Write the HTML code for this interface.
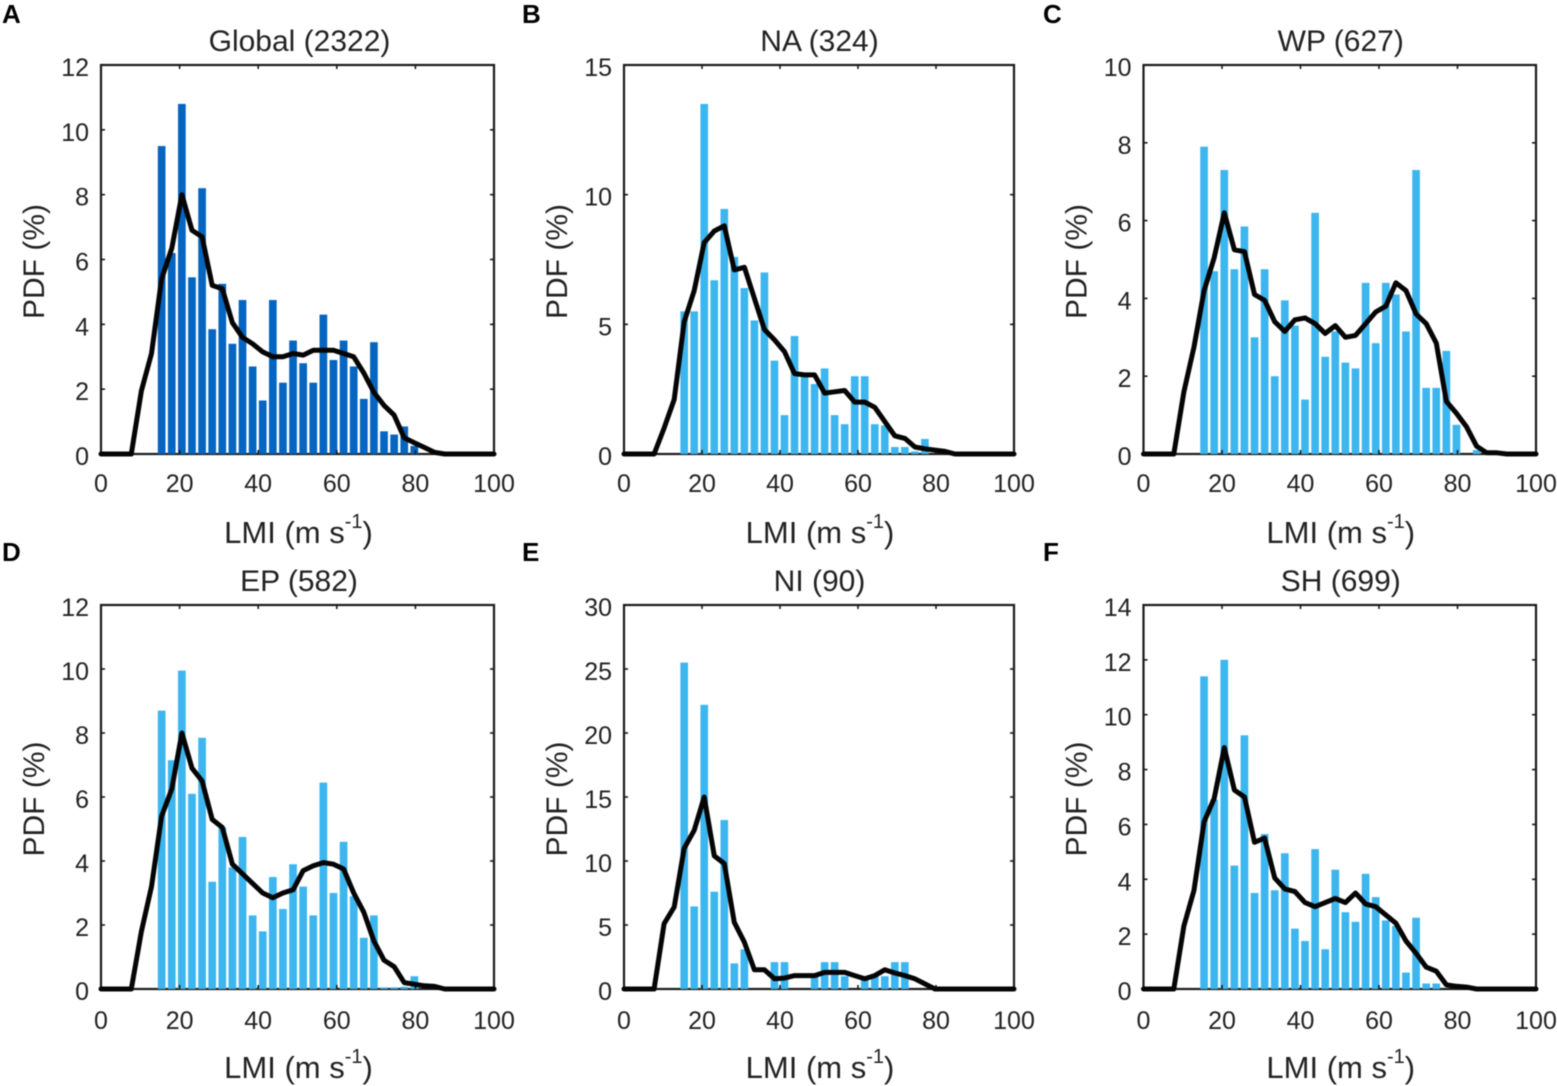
<!DOCTYPE html>
<html lang="en">
<head>
<meta charset="utf-8">
<title>LMI PDF by basin</title>
<style>
html,body{margin:0;padding:0;background:#fff;width:1557px;height:1086px;overflow:hidden}
svg{display:block;filter:blur(0.5px)}
text{font-family:"Liberation Sans",Arial,sans-serif;fill:#222}
.tick{font-size:25px}
.lab{font-size:30px}
.xlab{font-size:31px}
.letter{font-size:26px;font-weight:bold;fill:#000}
</style>
</head>
<body>
<svg id="fig" xmlns="http://www.w3.org/2000/svg" width="1557" height="1086" viewBox="0 0 1557 1086"></svg>
<script>
// Shared categories (knots) and tick labels
const barKnots = [30,35,40,45,50,55,60,65,70,75,80,85,90,95,100,105,110,115,120,125,130,135,140,145,150,155,160,165];
const lineKnots = [0,5,10,15,20,25,30,35,40,45,50,55,60,65,70,75,80,85,90,95,100,105,110,115,120,125,130,135,140,145,150,155,160,165,170,175,180,185,190,194.4];
const xTickLabels = [0,20,40,60,80,100];
const yTicksGlobal = [0,2,4,6,8,10,12];
const yTicksNA = [0,5,10,15];
const yTicksWP = [0,2,4,6,8,10];
const yTicksEP = [0,2,4,6,8,10,12];
const yTicksNI = [0,5,10,15,20,25,30];
const yTicksSH = [0,2,4,6,8,10,12,14];

// Histogram values (%)
const barsGlobal = [9.5,6.2,10.8,5.45,8.2,3.85,5.25,3.4,4.75,2.7,1.65,4.75,2.2,3.5,2.8,2.2,4.3,2.9,3.5,2.7,1.7,3.45,0.7,0.6,0.85,0.25,0,0];
const barsNA = [5.5,5.5,13.5,6.7,9.45,7.6,6.4,5.15,7.0,3.6,1.5,4.55,3.0,2.7,3.3,1.5,1.15,3.0,3.0,1.15,1.1,0.27,0.27,0.1,0.58,0,0,0];
const barsWP = [7.9,4.7,7.3,4.75,5.85,3.0,4.75,2.0,3.95,3.3,1.4,6.2,2.5,3.15,2.35,2.2,4.4,2.85,4.4,4.1,3.15,7.3,1.7,1.7,2.65,0.75,0,0.1];
const barsEP = [8.7,7.15,9.95,6.1,7.85,3.35,5.05,3.8,4.75,2.3,1.8,3.5,2.5,3.9,3.2,2.3,6.45,3.0,4.6,2.9,1.6,2.3,0.05,0.05,0.07,0.4,0,0];
const barsNI = [25.5,6.45,22.2,7.6,13.2,2.0,3.1,0,0,2.1,2.1,0,0,1.0,2.1,2.1,1.0,0,1.0,1.0,1.0,2.1,2.1,0,0,0,0,0];
const barsSH = [11.4,6.9,12.0,4.5,9.25,3.5,5.65,3.6,4.95,2.2,1.75,5.1,1.45,4.35,2.8,2.45,4.2,3.35,2.5,2.3,0.6,2.6,0.2,0.2,0,0,0,0];

// Smoothed PDF curves (%), aligned with lineKnots
const curveGlobal = [0,0,0,0,1.95,3.1,5.4,6.35,8.0,6.9,6.7,5.2,5.1,4.05,3.6,3.4,3.15,3.0,3.0,3.1,3.05,3.2,3.2,3.2,3.1,3.0,2.5,1.9,1.5,1.2,0.5,0.35,0.2,0.05,0,0,0,0,0,0];
const curveNA = [0,0,0,0,1.0,2.1,5.1,6.3,8.15,8.6,8.8,7.1,7.2,6.0,4.8,4.4,3.95,3.1,3.05,3.05,2.35,2.4,2.45,2.0,2.0,1.8,1.25,0.7,0.6,0.27,0.2,0.15,0.1,0,0,0,0,0,0,0];
const curveWP = [0,0,0,0,1.6,2.75,4.2,5.05,6.2,5.25,5.2,4.1,3.95,3.4,3.15,3.45,3.5,3.35,3.1,3.3,3.0,3.05,3.35,3.65,3.8,4.4,4.2,3.6,3.35,2.85,1.35,1.05,0.7,0.2,0.03,0.03,0,0,0,0];
const curveEP = [0,0,0,0,1.8,3.2,5.4,6.25,8.0,6.9,6.5,5.3,5.05,3.9,3.6,3.3,3.0,2.85,3.0,3.1,3.7,3.85,3.95,3.9,3.75,3.0,2.4,1.5,0.9,0.7,0.2,0.15,0.1,0.08,0,0,0,0,0,0];
const curveNI = [0,0,0,0,5.1,6.4,11,12.4,15,10.4,9.8,5.2,3.65,1.5,1.5,0.8,0.85,1.05,1.05,1.05,1.3,1.3,1.3,1.05,0.8,1.05,1.5,1.25,1.05,0.8,0.4,0,0,0,0,0,0,0,0,0];
const curveSH = [0,0,0,0,2.3,3.6,6.1,6.95,8.8,7.25,7.0,5.35,5.5,4.05,3.65,3.55,3.15,3.0,3.15,3.3,3.15,3.5,3.1,3.0,2.7,2.4,1.75,1.3,0.8,0.65,0.15,0.1,0.07,0,0,0,0,0,0,0];

const KNOT_TO_MS = 0.5144;
const NS = 'http://www.w3.org/2000/svg';
const fig = document.getElementById('fig');

const panels = [
  {key:'global',letter:'A',title:'Global (2322)',bars:barsGlobal,curve:curveGlobal,yTicks:yTicksGlobal,color:'#0565c0',L:101,R:494,T:65,B:454,lx:2,ly:23,xt:38,tc:2},
  {key:'na',letter:'B',title:'NA (324)',bars:barsNA,curve:curveNA,yTicks:yTicksNA,color:'#3db6ef',L:624,R:1014,T:65,B:454,lx:522,ly:23,xt:38,tc:0.5},
  {key:'wp',letter:'C',title:'WP (627)',bars:barsWP,curve:curveWP,yTicks:yTicksWP,color:'#3db6ef',L:1143.5,R:1536,T:65,B:454,lx:1043,ly:23,xt:38,tc:1},
  {key:'ep',letter:'D',title:'EP (582)',bars:barsEP,curve:curveEP,yTicks:yTicksEP,color:'#3db6ef',L:101,R:494,T:605,B:989,lx:2,ly:561,xt:40,tc:1.5},
  {key:'ni',letter:'E',title:'NI (90)',bars:barsNI,curve:curveNI,yTicks:yTicksNI,color:'#3db6ef',L:624,R:1014,T:605,B:989,lx:522,ly:561,xt:40,tc:0.5},
  {key:'sh',letter:'F',title:'SH (699)',bars:barsSH,curve:curveSH,yTicks:yTicksSH,color:'#3db6ef',L:1143.5,R:1536,T:605,B:989,lx:1043,ly:561,xt:40,tc:1}
];

function make(tag, attrs, parent, txt){
  const e = document.createElementNS(NS, tag);
  for (const k in attrs) e.setAttribute(k, attrs[k]);
  if (txt !== undefined) e.textContent = txt;
  parent.appendChild(e);
  return e;
}

panels.forEach(function(p){
  const xScale = function(v){ return p.L + (v / 100) * (p.R - p.L); };
  const yMax = p.yTicks[p.yTicks.length - 1];
  const yScale = function(v){ return p.B - (v / yMax) * (p.B - p.T); };
  const cx = (p.L + p.R) / 2;

  const g = make('g', {}, fig);
  
  

  const letter = make('text', {x:p.lx, y:p.ly, class:'letter'}, g, p.letter);
  
  

  const title = make('text', {x:cx + p.tc, y:p.T - 14, class:'lab', 'text-anchor':'middle'}, g, p.title);
  
  

  const frame = make('rect', {x:p.L, y:p.T, width:p.R - p.L, height:p.B - p.T, fill:'#fff', stroke:'#1a1a1a', 'stroke-width':2.2}, g);
  
  

  const bw = 1.96 * (p.R - p.L) / 100;
  p.bars.forEach(function(v, i){
    if (v <= 0) return;
    const bx = xScale(barKnots[i] * KNOT_TO_MS) - bw / 2;
    const by = yScale(v);
    const bar = make('rect', {x:bx, y:by, width:bw, height:p.B - by, fill:p.color}, g);
    
    
  });

  xTickLabels.forEach(function(v){
    const tx = xScale(v);
    if (v > 0 && v < 100) {
      make('line', {x1:tx, x2:tx, y1:p.B, y2:p.B - 4, stroke:'#1a1a1a', 'stroke-width':1.6}, g);
      make('line', {x1:tx, x2:tx, y1:p.T, y2:p.T + 4, stroke:'#1a1a1a', 'stroke-width':1.6}, g);
    }
    const lab = make('text', {x:tx, y:p.B + p.xt, class:'tick', 'text-anchor':'middle'}, g, String(v));
    
    
  });

  p.yTicks.forEach(function(v){
    const ty = yScale(v);
    if (v > 0 && v < yMax) {
      make('line', {x1:p.L, x2:p.L + 4, y1:ty, y2:ty, stroke:'#1a1a1a', 'stroke-width':1.6}, g);
      make('line', {x1:p.R, x2:p.R - 4, y1:ty, y2:ty, stroke:'#1a1a1a', 'stroke-width':1.6}, g);
    }
    const lab = make('text', {x:p.L - 12, y:ty + 11, class:'tick', 'text-anchor':'end'}, g, String(v));
    
    
  });

  const pts = lineKnots.map(function(k, i){
    const val = p.curve[i] === undefined ? 0 : p.curve[i];
    return xScale(Math.min(k * KNOT_TO_MS, 100)).toFixed(1) + ',' + yScale(val).toFixed(1);
  }).join(' ');
  const curve = make('polyline', {points:pts, fill:'none', stroke:'#050505', 'stroke-width':5, 'stroke-linejoin':'round', 'stroke-linecap':'round'}, g);
  
  

  const xl = make('text', {x:cx + 1, y:p.B + 89, class:'xlab', 'text-anchor':'middle'}, g);
  
  
  make('tspan', {}, xl, 'LMI (m s');
  make('tspan', {dy:-15, 'font-size':20}, xl, '-1');
  make('tspan', {dy:15}, xl, ')');

  const ylx = p.L - 57;
  const yc = (p.T + p.B) / 2 + 2;
  const yl = make('text', {x:ylx, y:yc, class:'lab', 'text-anchor':'middle', transform:'rotate(-90 ' + ylx + ' ' + yc + ')'}, g, 'PDF (%)');
  
  
});
</script>
</body>
</html>
